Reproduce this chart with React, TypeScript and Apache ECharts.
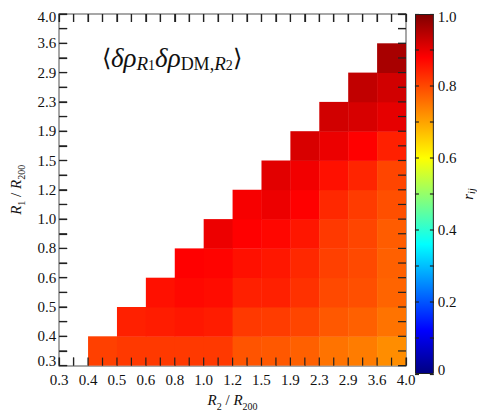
import React, { useEffect, useRef } from 'react';
import * as echarts from 'echarts';

// bin edges (R / R200), shared by both axes
const binEdges = ['0.3', '0.4', '0.5', '0.6', '0.8', '1.0', '1.2', '1.5', '1.9', '2.3', '2.9', '3.6', '4.0'];

// r_ij for each R1 bin (row); row k starts at R2 bin k+1
const rowR1_0 = [0.81, 0.818, 0.818, 0.818, 0.818, 0.788, 0.783, 0.775, 0.753, 0.744, 0.726];
const rowR1_1 = [0.845, 0.849, 0.854, 0.849, 0.818, 0.814, 0.805, 0.783, 0.775, 0.753];
const rowR1_2 = [0.862, 0.871, 0.867, 0.845, 0.845, 0.827, 0.8, 0.793, 0.77];
const rowR1_3 = [0.88, 0.877, 0.862, 0.854, 0.836, 0.81, 0.8, 0.775];
const rowR1_4 = [0.897, 0.88, 0.873, 0.856, 0.818, 0.805, 0.779];
const rowR1_5 = [0.887, 0.897, 0.88, 0.836, 0.816, 0.793];
const rowR1_6 = [0.907, 0.892, 0.862, 0.84, 0.805];
const rowR1_7 = [0.917, 0.898, 0.88, 0.845];
const rowR1_8 = [0.924, 0.918, 0.904];
const rowR1_9 = [0.939, 0.924];
const rowR1_10 = [0.962];
const correlationRows = [rowR1_0, rowR1_1, rowR1_2, rowR1_3, rowR1_4, rowR1_5, rowR1_6, rowR1_7, rowR1_8, rowR1_9, rowR1_10];

// colour map (position, colour)
const cmapPos = [0, 0.12, 0.36, 0.6, 0.88, 1];
const cmapCol = ['#000080', '#0000ff', '#00ffff', '#ffff00', '#ff0000', '#800000'];

const FONT = '"Liberation Serif", "Times New Roman", Times, serif';
const TICK_COLOR = '#222';

function hexToRgb(h: string) {
  return [parseInt(h.slice(1, 3), 16), parseInt(h.slice(3, 5), 16), parseInt(h.slice(5, 7), 16)];
}
function cmap(t: number) {
  let k = 0;
  while (k < cmapPos.length - 2 && t > cmapPos[k + 1]) k++;
  const f = (t - cmapPos[k]) / (cmapPos[k + 1] - cmapPos[k]);
  const a = hexToRgb(cmapCol[k]);
  const b = hexToRgb(cmapCol[k + 1]);
  const c = a.map((x, i) => Math.round(x + (b[i] - x) * f));
  return `rgb(${c[0]},${c[1]},${c[2]})`;
}

export default function App() {
  const ref = useRef<HTMLDivElement>(null);
  useEffect(() => {
    const chart = echarts.init(ref.current!, null, { renderer: 'svg' });
    const nBins = binEdges.length - 1;
    const cells: number[][] = [];
    correlationRows.forEach((vals, i) => vals.forEach((v, k) => cells.push([i + 1 + k, i, v])));
    const sampled: string[] = [];
    for (let s = 0; s <= 100; s++) sampled.push(cmap(s / 100));

    const labelFont = { fontFamily: FONT, fontSize: 15, color: '#111' };
    const mkLine = () => ({ show: true, onZero: false, lineStyle: { color: '#8a8a8a', width: 1.5 } });
    const mkTick = () => ({ show: true, inside: true, length: 8, lineStyle: { color: TICK_COLOR, width: 1.2 } });
    const mkCbTick = () => ({ show: true, inside: true, length: 4, lineStyle: { color: TICK_COLOR, width: 1.2 } });
    const nameRich = {
      i: { fontFamily: FONT, fontStyle: 'italic', fontSize: 15, lineHeight: 22, verticalAlign: 'middle', color: '#111' },
      n: { fontFamily: FONT, fontSize: 15, lineHeight: 22, verticalAlign: 'middle', color: '#111' },
      s: { fontFamily: FONT, fontSize: 10, lineHeight: 10, verticalAlign: 'bottom', color: '#111' },
    };
    const edgeRich = {
      lo: { ...labelFont, padding: [0, 0, 9, 0] },
      hi: { ...labelFont, padding: [6, 0, 0, 0] },
    };

    chart.setOption({
      animation: false,
      backgroundColor: '#fff',
      grid: [
        { left: 46, top: 14, width: 360, height: 360 },
        { left: 415, top: 14, width: 19, height: 360 },
      ],
      xAxis: [
        {
          gridIndex: 0, type: 'value', min: 0, max: nBins, interval: 0.5, position: 'bottom',
          axisLine: mkLine(), axisTick: mkTick(), splitLine: { show: false },
          axisLabel: { ...labelFont, margin: 7, formatter: (v: number) => (Number.isInteger(v) ? binEdges[v] : '') },
          name: '{i|R}{s|2}{n| / }{i|R}{s|200}', nameLocation: 'middle', nameGap: 17,
          nameTextStyle: { rich: nameRich },
        },
        {
          gridIndex: 0, type: 'value', min: 0, max: nBins, interval: 0.5, position: 'top',
          axisLine: mkLine(), axisTick: mkTick(), splitLine: { show: false }, axisLabel: { show: false },
        },
        { gridIndex: 1, type: 'category', data: [''], show: false },
      ],
      yAxis: [
        {
          gridIndex: 0, type: 'value', min: 0, max: nBins, interval: 0.5, position: 'left',
          axisLine: mkLine(), axisTick: mkTick(), splitLine: { show: false },
          axisLabel: {
            ...labelFont, margin: 3, rich: edgeRich,
            formatter: (v: number) => {
              if (!Number.isInteger(v)) return '';
              if (v === 0) return `{lo|${binEdges[v]}}`;
              if (v === nBins) return `{hi|${binEdges[v]}}`;
              return binEdges[v];
            },
          },
          name: '{i|R}{s|1}{n| / }{i|R}{s|200}', nameLocation: 'middle', nameGap: 29, nameRotate: 90,
          nameTextStyle: { rich: nameRich },
        },
        {
          gridIndex: 0, type: 'value', min: 0, max: nBins, interval: 0.5, position: 'right',
          axisLine: mkLine(), axisTick: mkTick(), splitLine: { show: false }, axisLabel: { show: false },
        },
        {
          gridIndex: 1, type: 'value', min: 0, max: 1, interval: 0.1, position: 'right',
          axisLine: { show: false }, axisTick: mkCbTick(), splitLine: { show: false },
          axisLabel: {
            ...labelFont, margin: 4, rich: edgeRich,
            formatter: (v: number) => {
              const k = Math.round(v * 10);
              if (k % 2) return '';
              if (k === 0) return '{lo|0}';
              if (k === 10) return '{hi|1.0}';
              return (k / 10).toFixed(1);
            },
          },
          name: '{r|r}{s|ij}', nameLocation: 'middle', nameGap: 19, nameRotate: 90,
          nameTextStyle: {
            rich: {
              r: { fontFamily: FONT, fontStyle: 'italic', fontSize: 15, lineHeight: 16, verticalAlign: 'middle', color: '#111' },
              s: { fontFamily: FONT, fontStyle: 'italic', fontSize: 10, lineHeight: 10, verticalAlign: 'bottom', color: '#111' },
            },
          },
        },
        {
          gridIndex: 1, type: 'value', min: 0, max: 1, interval: 0.1, position: 'left',
          axisLine: { show: false }, axisTick: mkCbTick(), splitLine: { show: false }, axisLabel: { show: false },
        },
      ],
      visualMap: {
        type: 'continuous', show: false, min: 0, max: 1, dimension: 2, seriesIndex: 0,
        inRange: { color: sampled },
      },
      series: [
        {
          type: 'custom', xAxisIndex: 0, yAxisIndex: 0, data: cells, encode: { x: 0, y: 1 },
          renderItem: (params: any, api: any) => {
            const x = api.value(0);
            const y = api.value(1);
            const p0 = api.coord([x, y + 1]);
            const p1 = api.coord([x + 1, y]);
            const w = p1[0] - p0[0] + (x + 1 < nBins ? 0.4 : 0);
            const h = p1[1] - p0[1] + (y > 0 ? 0.4 : 0);
            return { type: 'rect', shape: { x: p0[0], y: p0[1], width: w, height: h }, style: { fill: api.visual('color') } };
          },
        },
        {
          type: 'bar', xAxisIndex: 2, yAxisIndex: 2, data: [1], barWidth: '100%', silent: true,
          itemStyle: {
            color: new echarts.graphic.LinearGradient(0, 1, 0, 0,
              cmapPos.map((p, i) => ({ offset: p, color: cmapCol[i] }))),
            borderColor: '#222', borderWidth: 1,
          },
        },
      ],
    });

    // inward ticks (bin edges and mid-points) placed through the axes' own scales
    const lines: any[] = [];
    const tl = (x1: number, y1: number, x2: number, y2: number) =>
      lines.push({ type: 'line', silent: true, z: 50, shape: { x1, y1, x2, y2 }, style: { stroke: TICK_COLOR, lineWidth: 1.2 } });
    for (let s = 0; s <= nBins * 2; s++) {
      const t = s / 2;
      const b = chart.convertToPixel({ xAxisIndex: 0, yAxisIndex: 0 }, [t, 0]);
      const tp = chart.convertToPixel({ xAxisIndex: 0, yAxisIndex: 0 }, [t, nBins]);
      const l = chart.convertToPixel({ xAxisIndex: 0, yAxisIndex: 0 }, [0, t]);
      const r = chart.convertToPixel({ xAxisIndex: 0, yAxisIndex: 0 }, [nBins, t]);
      tl(b[0], b[1], b[0], b[1] - 8);
      tl(tp[0], tp[1], tp[0], tp[1] + 8);
      tl(l[0], l[1], l[0] + 8, l[1]);
      tl(r[0], r[1], r[0] - 8, r[1]);
    }
    const cbLo = chart.convertToPixel({ xAxisIndex: 2, yAxisIndex: 2 }, [0, 0]);
    const cbHalf = 9.5;
    for (let k = 1; k < 10; k++) {
      const p = chart.convertToPixel({ xAxisIndex: 2, yAxisIndex: 2 }, [0, k / 10]);
      tl(cbLo[0] - cbHalf, p[1], cbLo[0] - cbHalf + 4, p[1]);
      tl(cbLo[0] + cbHalf, p[1], cbLo[0] + cbHalf - 4, p[1]);
    }

    chart.setOption({
      graphic: [
        {
          type: 'text', left: 102, top: 44, z: 20,
          style: {
            text: '{b|⟨}{g|δρ}{r|R}{n|1}{g|δρ}{d|DM,}{r|R}{n|2}{b|⟩}',
            fontFamily: FONT,
            rich: {
              b: { fontFamily: FONT, fontSize: 24, lineHeight: 30, verticalAlign: 'middle', fill: '#111' },
              g: { fontFamily: FONT, fontSize: 27, fontStyle: 'italic', lineHeight: 30, verticalAlign: 'middle', fill: '#111' },
              r: { fontFamily: FONT, fontSize: 19, fontStyle: 'italic', lineHeight: 20, verticalAlign: 'bottom', fill: '#111' },
              n: { fontFamily: FONT, fontSize: 14, lineHeight: 14, verticalAlign: 'bottom', fill: '#111' },
              d: { fontFamily: FONT, fontSize: 18, lineHeight: 20, verticalAlign: 'bottom', fill: '#111' },
            },
          },
        },
        ...lines,
      ],
    });
    return () => chart.dispose();
  }, []);
  return <div ref={ref} style={{ position: 'fixed', left: 0, top: 0, width: 477, height: 416 }} />;
}
